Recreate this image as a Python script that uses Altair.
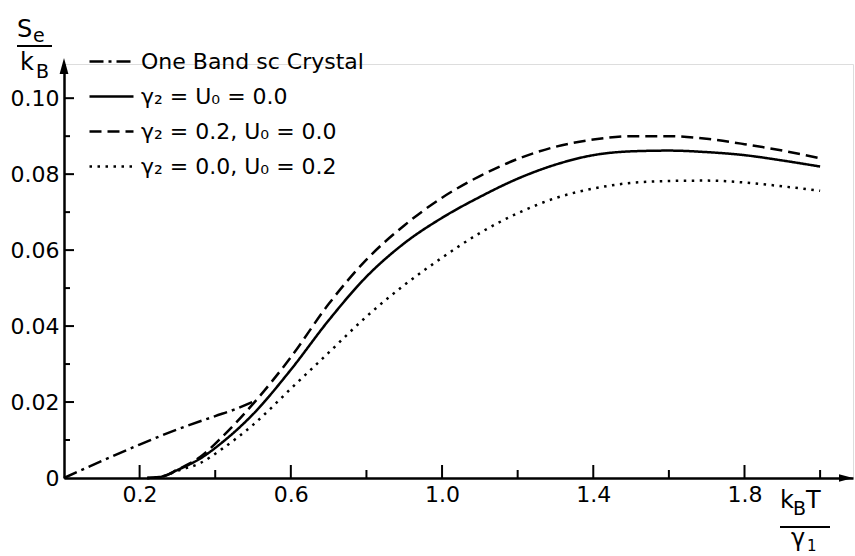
import altair as alt
import pandas as pd

# ---------------- data ----------------
series_names = [
    "One Band sc Crystal",
    "γ₂ = U₀ = 0.0",
    "γ₂ = 0.2, U₀ = 0.0",
    "γ₂ = 0.0, U₀ = 0.2",
]

x_band = [0.0, 0.1, 0.2, 0.3, 0.4, 0.45, 0.51]
s_band = [0.0, 0.0045, 0.0088, 0.0128, 0.0163, 0.0180, 0.0205]

x_t = [0.22, 0.26, 0.30, 0.36, 0.42, 0.50, 0.60, 0.70, 0.80, 0.90, 1.00,
       1.10, 1.20, 1.30, 1.40, 1.50, 1.60, 1.70, 1.80, 1.90, 2.00]
s_solid = [0.0, 0.0004, 0.0021, 0.0051, 0.0095, 0.0168, 0.0285, 0.0415, 0.0530,
           0.0618, 0.0685, 0.0740, 0.0788, 0.0825, 0.0850, 0.0860, 0.0862,
           0.0858, 0.0850, 0.0836, 0.0820]
s_dashed = [0.0, 0.0004, 0.0022, 0.0055, 0.0110, 0.0195, 0.0318, 0.0458, 0.0575,
            0.0665, 0.0738, 0.0795, 0.0840, 0.0872, 0.0891, 0.0900, 0.0900,
            0.0893, 0.0879, 0.0862, 0.0842]
s_dotted = [0.0, 0.0004, 0.0019, 0.0039, 0.0078, 0.0140, 0.0235, 0.0330, 0.0425,
            0.0508, 0.0580, 0.0645, 0.0697, 0.0737, 0.0762, 0.0777, 0.0782,
            0.0783, 0.0778, 0.0768, 0.0756]

x_label_ticks = [0.2, 0.6, 1.0, 1.4, 1.8]
x_minor_ticks = [0.4, 0.8, 1.2, 1.6, 2.0]
y_label_ticks = [0.0, 0.02, 0.04, 0.06, 0.08, 0.10]
y_major_ticks = [0.02, 0.04, 0.06, 0.08, 0.10]
y_minor_ticks = [0.01, 0.03, 0.05, 0.07, 0.09]

rows = []
for xv, yv in zip(x_band, s_band):
    rows.append({"x": xv, "s": yv, "series": series_names[0]})
for name, ys in zip(series_names[1:], [s_solid, s_dashed, s_dotted]):
    for xv, yv in zip(x_t, ys):
        rows.append({"x": xv, "s": yv, "series": name})
df = pd.DataFrame(rows)

# ---------------- layout ----------------
W, H = 789, 414
XMAX, YMAX = 2.087, 0.109
FONT = "DejaVu Sans"

xs = alt.Scale(domain=[0, XMAX], nice=False, zero=False)
ys = alt.Scale(domain=[0, YMAX], nice=False, zero=False)

one = alt.Data(values=[{"k": 1}])

lines = alt.Chart(df).mark_line(interpolate="monotone", color="black").encode(
    x=alt.X("x:Q", scale=xs,
            axis=alt.Axis(values=x_label_ticks, format=".1f", ticks=False, grid=False,
                          title=None, labelPadding=6, labelFlush=False,
                          labelFont=FONT, labelFontSize=22, labelColor="black",
                          domainColor="black", domainWidth=2.5)),
    y=alt.Y("s:Q", scale=ys,
            axis=alt.Axis(values=y_label_ticks, ticks=False, grid=False, title=None,
                          labelPadding=5, labelFlush=False,
                          labelFont=FONT, labelFontSize=22, labelColor="black",
                          domainColor="black", domainWidth=2.5,
                          labelExpr="datum.value == 0 ? '0' : format(datum.value, '.2f')")),
    strokeDash=alt.StrokeDash(
        "series:N",
        scale=alt.Scale(domain=series_names,
                        range=[[14, 5, 3, 5], [1, 0], [12, 6], [2.5, 5.5]]),
        legend=alt.Legend(orient="none", legendX=24, legendY=-26, title=None,
                          symbolType="stroke", symbolSize=1936, symbolStrokeWidth=2.6,
                          symbolStrokeColor="black", labelFont=FONT, labelFontSize=22,
                          labelColor="black", labelOffset=6, rowPadding=-10,
                          labelLimit=400),
    ),
    strokeWidth=alt.StrokeWidth(
        "series:N",
        scale=alt.Scale(domain=series_names, range=[2.5, 2.5, 2.6, 3.2]),
        legend=None,
    ),
    order=alt.Order("x:Q"),
)

xt_major = alt.Chart(pd.DataFrame({"v": x_label_ticks})).mark_rule(strokeWidth=2, color="black").encode(
    x=alt.X("v:Q", scale=xs), y=alt.value(H), y2=alt.value(H - 13))
xt_minor = alt.Chart(pd.DataFrame({"v": x_minor_ticks})).mark_rule(strokeWidth=2, color="black").encode(
    x=alt.X("v:Q", scale=xs), y=alt.value(H), y2=alt.value(H - 8))
yt_major = alt.Chart(pd.DataFrame({"v": y_major_ticks})).mark_rule(strokeWidth=2, color="black").encode(
    y=alt.Y("v:Q", scale=ys), x=alt.value(0), x2=alt.value(10))
yt_minor = alt.Chart(pd.DataFrame({"v": y_minor_ticks})).mark_rule(strokeWidth=2, color="black").encode(
    y=alt.Y("v:Q", scale=ys), x=alt.value(0), x2=alt.value(6))

arrow_y = alt.Chart(one).mark_point(shape="M0,-1L0.55,1L-0.55,1Z", filled=True, color="black",
                                    size=256, opacity=1).encode(x=alt.value(0), y=alt.value(2))
arrow_x = alt.Chart(one).mark_point(shape="M1,0L-1,-0.55L-1,0.55Z", filled=True, color="black",
                                    size=196, opacity=1).encode(x=alt.value(W - 7), y=alt.value(H))


def txt(t, x, y, size=24):
    return alt.Chart(alt.Data(values=[{"t": t}])).mark_text(
        align="left", baseline="alphabetic", font=FONT, fontSize=size, color="black"
    ).encode(text="t:N", x=alt.value(x), y=alt.value(y))


def bar(x1, x2, y):
    return alt.Chart(one).mark_rule(strokeWidth=2, color="black").encode(
        x=alt.value(x1), x2=alt.value(x2), y=alt.value(y))


# y title: S_e / k_B
ytitle = [txt("S", -47, -27), txt("e", -31, -22, 19), bar(-47, -12, -18),
          txt("k", -44, 6), txt("B", -28, 14, 19)]
# x title: k_B T / gamma_1
xtitle = [txt("k", 716, 444), txt("B", 729, 451, 19), txt("T", 742, 444),
          bar(716, 766, 463), txt("γ", 727, 482), txt("1", 743, 487, 15)]

chart = alt.layer(
    lines, xt_major, xt_minor, yt_major, yt_minor, arrow_y, arrow_x, *ytitle, *xtitle
).properties(
    width=W, height=H,
    autosize=alt.AutoSizeParams(type="none"),
    padding={"left": 64, "top": 64, "right": 2, "bottom": 78},
).configure_view(stroke=None).configure(background="white")

chart.save("out.html", embed_options={"renderer": "svg", "actions": False})
